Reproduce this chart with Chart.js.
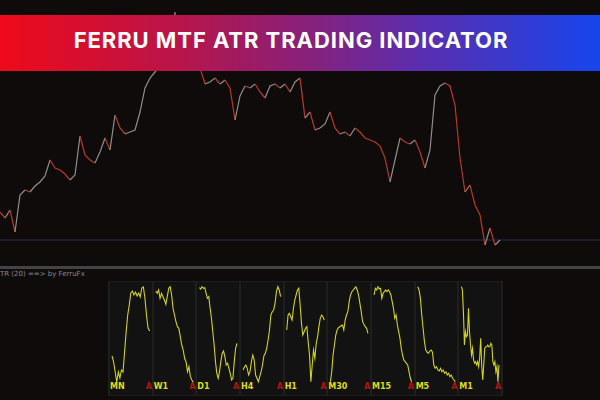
<!DOCTYPE html>
<html><head><meta charset="utf-8">
<script src="https://cdn.jsdelivr.net/npm/chart.js@4"></script>
<style>
html,body{margin:0;padding:0;background:#0e0b0a;width:600px;height:400px;overflow:hidden;font-family:"DejaVu Sans",sans-serif}
#main{position:absolute;left:0;top:0;width:600px;height:265px}
#banner{position:absolute;left:0;top:15px;width:600px;height:56px;box-sizing:border-box;padding-bottom:7px;padding-right:18px;background:linear-gradient(90deg,#ee0a1a 0%,#b8154a 30%,#8a2078 50%,#5a2eae 70%,#1745ec 100%);display:flex;align-items:center;justify-content:center;color:#fff;font-family:Inter,"Open Sans",sans-serif;font-weight:700;font-size:22px;letter-spacing:0.95px}
#sep{position:absolute;left:0;top:266px;width:600px;height:3px;background:#444}
#cap{position:absolute;left:0;top:270px;font-size:7px;color:#8a8a8a;white-space:nowrap}
#frame{position:absolute;left:108px;top:281px;width:395px;height:115px;background:#1e1e1e}
.pn{position:absolute;top:282px;height:113px;background:#121212}
.lb{position:absolute;top:382px;font-size:8px;font-weight:bold;color:#dede10;font-family:"DejaVu Sans",sans-serif}
.ar{position:absolute;top:382px;font-size:8px;font-weight:bold;color:#b31212;font-family:"DejaVu Sans",sans-serif}
#atr{position:absolute;left:109px;top:282px;width:393px;height:113px}
</style></head><body>
<div id="main"><canvas id="c1" width="600" height="265"></canvas></div>
<div id="banner">FERRU MTF ATR TRADING INDICATOR</div>
<div id="sep"></div>
<div id="cap">TR (20) ==&gt; by FerruFx</div>
<div id="frame"></div>
<div id="panels"></div>
<div id="atr"><canvas id="c2" width="393" height="113"></canvas></div>
<script>
// price closes, one every 5 px step of time
const price = [53,47,55,33,70,75,73,79,83,89,105,97,95,91,85,90,129,110,105,102,113,127,115,150,137,131,133,135,153,177,187,193,199,207,220,253,227,217,210,205,197,181,183,187,181,185,177,145,169,179,177,181,173,167,179,181,177,181,173,183,187,147,153,135,137,141,153,137,131,133,129,137,133,127,125,123,119,107,83,105,127,123,121,125,113,97,115,170,179,182,179,160,107,73,80,60,50,20,37,20,25];
const levelValue = 25;
const timeSlots = 121;

const frames = ["MN","W1","D1","H4","H1","M30","M15","M5","M1"];
const atrMN  = [39,33,23,13,23,17,25,23,43,63,80,90,102,104,100,103,99,102,98,107,108,97,80,67,64];
const atrW1  = [104,101.7,105,96.7,101.7,98.3,95,90.7,98.3,106.7,108.3,100,86.7,80,73.3,68.3,66.7,58.3,50,45,36.7,33.3,23.3,28.3,18.3,15,12.7];
const atrD1  = [107.3,106,108.3,106.7,107.3,101.7,96.7,98.3,86.7,76.7,63.3,50,33.3,21.7,16.7,23.3,33.3,41.7,44,38.3,30,31.7,26.7,21.7,15,16.7,33.3,46.7,51.7];
const atrH4  = [25,28.3,30,26.7,20,23.3,33.3,40,35,20,16.7,13.3,18.3,23.3,30,39.3,41.7,46.7,55,65,80,83.3,85,91.7,103.3,108.3,105,98.3];
const atrH1  = [65,80,81.7,78.3,75,86.7,95,100,105,106.7,90,71.7,60,63.3,66.7,68.3,53.3,40,13.3,30,45,36.7,51.7,58.3,68.3,76.7,80,78.3,75];
const atrM30 = [13.3,23.3,40,50,60,65,67.3,68.3,69.3,70,65,75,80,83.3,93.3,100,103.3,105,106.7,108.3,105,100,91.7,83.3,73.3,70.7,68.3,66.7,61.7];
const atrM15 = [100,106.7,105,108.3,106,106.7,96.7,101.7,103.3,105,103.3,105,103.3,100,93.3,86.7,76.7,80,70,63.3,56.7,46.7,40,35,33.3,31.7,30,23.3,16.7,13.3];
const atrM5  = [108.3,105,96.7,80,66.7,53.3,45,42.7,41.7,44,45,42.7,30,26.7,28.3,25,24,26.7,23.3,25,21.7,23.3,20,21.7,18.3,20,16.7,15,13.3];
const atrM1  = [108.3,105,83.3,50,63.3,58.3,60,86.7,63.3,50,40,46.7,35,31.7,33.3,30,33.3,28.3,36.7,56.7,30,15,30,46.7,48.3,48.3,50,48.3,48.3,51.7,50,33.3,30,33.3,23.3,28.3,13.3,30];
const atrSeries = [atrMN,atrW1,atrD1,atrH4,atrH1,atrM30,atrM15,atrM5,atrM1];

// ---- main price chart
const labels = Array.from({length:timeSlots},(_,i)=>i);
new Chart(document.getElementById('c1'),{
  type:'line',
  data:{labels,datasets:[
    {data:price,borderColor:'#8c8c8c',borderWidth:1.2,pointRadius:0,tension:0,
     segment:{borderColor:ctx=>ctx.p1.parsed.y<ctx.p0.parsed.y?'#b83a28':'#8e8e8e'}},
    {data:labels.map(()=>levelValue),borderColor:'#2a2a58',borderWidth:1,pointRadius:0}
  ]},
  options:{responsive:false,animation:false,events:[],
    layout:{padding:0},
    plugins:{legend:{display:false},tooltip:{enabled:false}},
    scales:{x:{display:false,offset:false},y:{display:false,min:0,max:265}}}
});

// ---- panels (backgrounds and labels)
const pw = 393/frames.length;
const host = document.getElementById('panels');
frames.forEach((f,i)=>{
  const l = 109 + i*pw;
  const p = document.createElement('div'); p.className='pn';
  p.style.left=(l+1)+'px'; p.style.width=(pw-2)+'px'; host.appendChild(p);
  const t = document.createElement('div'); t.className='lb'; t.textContent=f;
  t.style.left=(l+1)+'px'; host.appendChild(t);
  const a = document.createElement('div'); a.className='ar'; a.textContent='A';
  a.style.left=(l+pw-7)+'px'; host.appendChild(a);
});

// ---- ATR chart: one dataset per timeframe panel
const datasets = atrSeries.map((s,i)=>({
  data:s.map((v,j)=>({x:i+0.07+0.86*j/(s.length-1),y:v})),
  borderColor:'#d2d220',borderWidth:1.1,pointRadius:0,tension:0
}));
new Chart(document.getElementById('c2'),{
  type:'line',
  data:{datasets},
  options:{responsive:false,animation:false,events:[],
    layout:{padding:0},
    plugins:{legend:{display:false},tooltip:{enabled:false}},
    scales:{x:{type:'linear',display:false,min:0,max:9},y:{display:false,min:0,max:113}}}
});
</script>
</body></html>
